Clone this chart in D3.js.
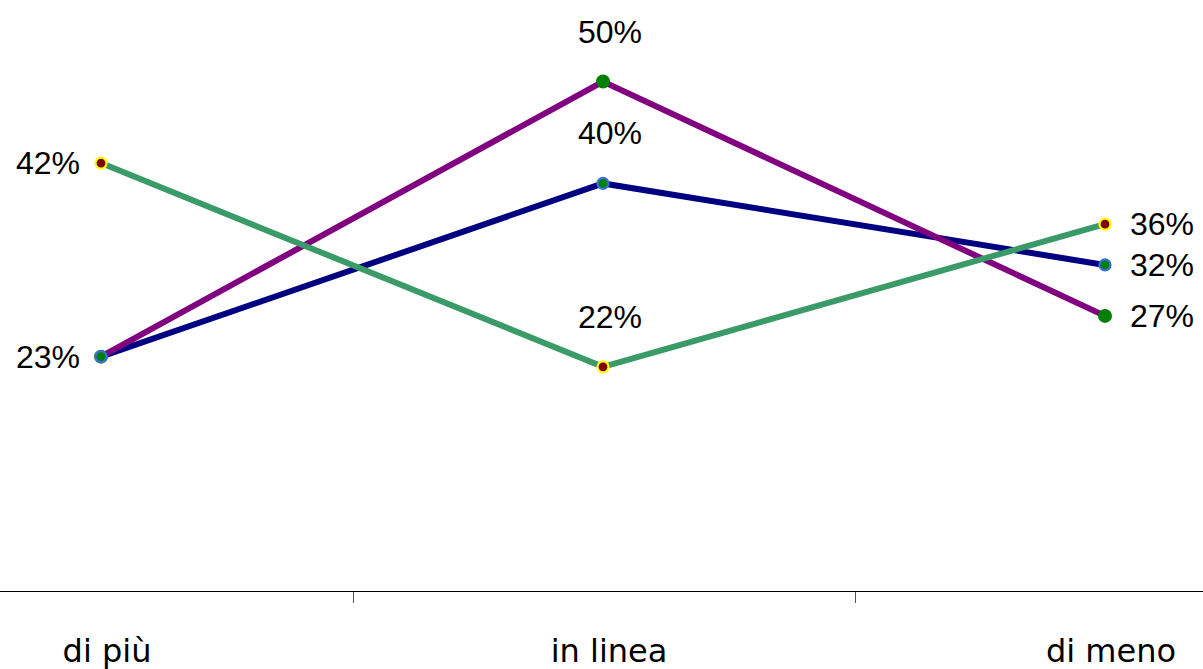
<!DOCTYPE html>
<html>
<head>
<meta charset="utf-8">
<script src="https://cdn.jsdelivr.net/npm/d3@7"></script>
<style>
  html, body { margin: 0; padding: 0; background: #fff; }
  svg { display: block; }
  text { font-family: "Liberation Sans", "DejaVu Sans", sans-serif; fill: #000; }
  text.cat { font-family: "DejaVu Sans", sans-serif; }
</style>
</head>
<body>
<svg id="chart" width="1203" height="669"></svg>
<script>
const categories = ["di più", "in linea", "di meno"];
const seriesNames = ["navy", "purple", "green"];
const navyValues = [23, 40, 32];
const purpleValues = [23, 50, 27];
const greenValues = [42, 22, 36];
// which points get a label (avoid duplicate "23%")
const navyLabels = [false, true, true];
const purpleLabels = [true, true, true];
const greenLabels = [true, true, true];

const series = [
  { name: "navy", values: navyValues, labels: navyLabels, line: "#000080", fill: "#008000", stroke: "#3a6fe0" },
  { name: "purple", values: purpleValues, labels: purpleLabels, line: "#800080", fill: "#008000", stroke: "#008000" },
  { name: "green", values: greenValues, labels: greenLabels, line: "#3a9a68", fill: "#800000", stroke: "#ffff00" }
];

const W = 1203, H = 669;
const svg = d3.select("#chart");

const x = d3.scaleBand().domain(categories).range([-150, 1356]).paddingInner(0).paddingOuter(0);
const y = d3.scaleLinear().domain([0, 58]).range([591, 0]);
const cx = c => x(c) + x.bandwidth() / 2;

// axis line
svg.append("line").attr("x1", 0).attr("x2", W).attr("y1", 591.5).attr("y2", 591.5)
  .attr("stroke", "#000").attr("stroke-width", 1);
// boundary ticks
categories.slice(1).forEach(c => {
  const xx = Math.round(x(c)) + 1.5;
  svg.append("line").attr("x1", xx).attr("x2", xx).attr("y1", 592).attr("y2", 603)
    .attr("stroke", "#555").attr("stroke-width", 1);
});
// category labels
svg.selectAll("text.cat").data(categories).enter().append("text")
  .attr("class", "cat")
  .attr("x", d => cx(d) + 6).attr("y", 662)
  .attr("text-anchor", "middle")
  .attr("font-size", 32)
  .text(d => d);

const line = d3.line().x((d, i) => cx(categories[i])).y(d => y(d));

// lines
series.forEach(s => {
  svg.append("path").datum(s.values).attr("d", line)
    .attr("fill", "none").attr("stroke", s.line).attr("stroke-width", 6)
    .attr("stroke-linejoin", "miter");
});
// markers (purple first, then navy, then green)
[series[1], series[0], series[2]].forEach(s => {
  svg.selectAll(null).data(s.values).enter().append("circle")
    .attr("cx", (d, i) => cx(categories[i]))
    .attr("cy", d => y(d))
    .attr("r", s.name === "purple" ? 7 : 5.5)
    .attr("fill", s.fill)
    .attr("stroke", s.stroke)
    .attr("stroke-width", s.name === "purple" ? 0 : 2.2);
});
// labels
series.forEach(s => {
  s.values.forEach((v, i) => {
    if (!s.labels[i]) return;
    const px = cx(categories[i]), py = y(v);
    const t = svg.append("text").attr("font-size", 32).text(v + "%");
    if (i === 0) {
      t.attr("x", px - 21).attr("y", py).attr("text-anchor", "end").attr("dominant-baseline", "central");
    } else if (i === categories.length - 1) {
      t.attr("x", px + 25).attr("y", py).attr("text-anchor", "start").attr("dominant-baseline", "central");
    } else {
      t.attr("x", px + 7).attr("y", py - 39).attr("text-anchor", "middle");
    }
  });
});
</script>
</body>
</html>
